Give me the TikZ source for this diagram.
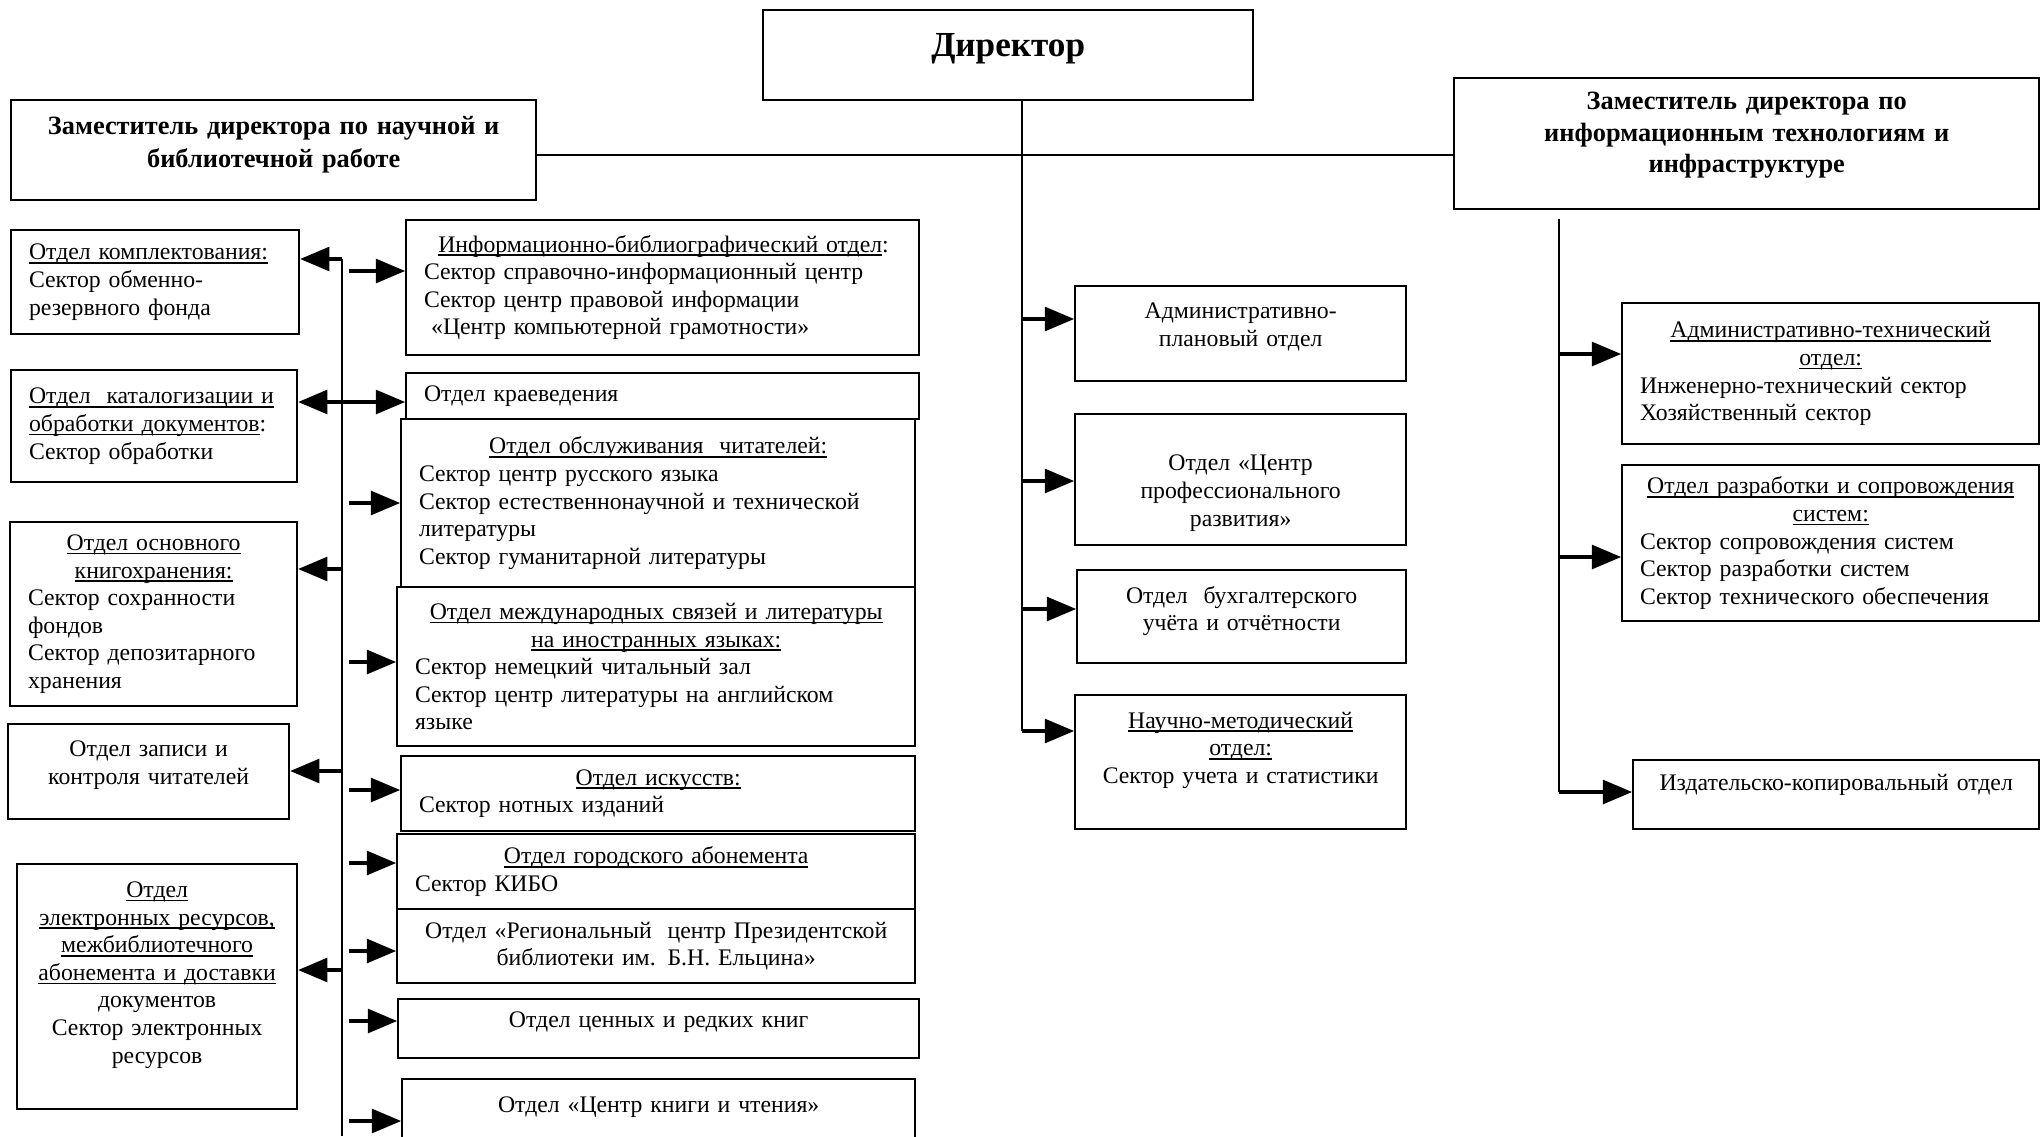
\documentclass[tikz,border=0pt]{standalone}
\usepackage{fontspec}
\setmainfont{Liberation Serif}
\usetikzlibrary{arrows}

\newsavebox\undlbox
\newcommand\undl[1]{\leavevmode\sbox\undlbox{#1}\rlap{\rule[-1.1pt]{\wd\undlbox}{0.45pt}}\usebox\undlbox}
\newcommand\boxfont{\fontsize{6.75pt}{7.85pt}\selectfont}
\newcommand\headfont{\fontsize{7.5pt}{9.3pt}\selectfont\bfseries}
\newcommand\dirfont{\fontsize{10pt}{12pt}\selectfont\bfseries}

\begin{document}
\begin{tikzpicture}[
    x=0.01cm, y=-0.01cm,
    box/.style={rectangle, draw, line width=0.6pt, inner xsep=0.18cm, inner ysep=2pt, anchor=north west, font=\boxfont},
    cbox/.style={box, align=center},
    lbox/.style={box, align=left},
    headbox/.style={box, align=center, font=\headfont},
    arrow/.style={line width=0.9pt,->,>=triangle 45},
    line/.style={line width=0.6pt,-}
]

\path[use as bounding box, fill=white] (0,0) rectangle (2042,1136);
\clip (0,0) rectangle (2042,1136);

% Top level

\node[headbox, font=\dirfont, text width=4.54cm, minimum height=0.90cm, text depth=0.2cm] (dir) at (762,9) {Директор};

\node[headbox, text width=4.89cm, minimum height=1.00cm, text depth=0.49cm] (zamL) at (10,99) {Заместитель директора по научной и\\ библиотечной работе};

\node[headbox, font=\headfont\fontsize{7.5pt}{8.9pt}\selectfont, text width=5.49cm, minimum height=1.31cm, text depth=0.85cm] (zamR) at (1453,77) {Заместитель директора по\\ информационным технологиям и\\ инфраструктуре};

\draw[line] (zamL.east |- 0,155) -- (zamR.west |- 0,155);

% Left column

\node[lbox, text width=2.52cm, minimum height=1.04cm] (kompl) at (10,229) {\undl{Отдел комплектования:}\\ Сектор обменно-\\ резервного фонда};

\node[lbox, text width=2.50cm, minimum height=1.12cm] (katal) at (10,369) {\undl{Отдел\ \ каталогизации и}\\ \undl{обработки документов}:\\ Сектор обработки};

\node[lbox, text width=2.51cm, minimum height=1.84cm] (khran) at (9,521) {{\centering\undl{Отдел основного}\\ \undl{книгохранения:}\par}Сектор сохранности\\ фондов\\ Сектор депозитарного\\ хранения};

\node[cbox, text width=2.45cm, minimum height=0.95cm, text depth=0.46cm] (zapis) at (7,723) {Отдел записи и\\ контроля читателей};

\node[cbox, text width=2.44cm, minimum height=2.45cm, text depth=1.94cm] (elres) at (16,863) {\undl{Отдел}\\ \undl{электронных ресурсов,}\\ \undl{межбиблиотечного}\\ \undl{абонемента и доставки}\\ документов\\ Сектор электронных\\ ресурсов};

% Second column

\node[lbox, text width=4.77cm, minimum height=1.35cm] (infobib) at (405,219) {\hspace*{0.6em}\undl{Информационно-библиографический отдел}:\\ Сектор справочно-информационный центр\\ Сектор центр правовой информации\\ \hspace*{0.3em}«Центр компьютерной грамотности»};

\node[lbox, text width=4.77cm, minimum height=0.46cm] (kraev) at (405,372) {Отдел краеведения};

\node[lbox, text width=4.78cm, minimum height=1.68cm] (obsl) at (400,418) {{\centering\undl{Отдел обслуживания\ \ читателей:}\par}Сектор центр русского языка\\ Сектор естественнонаучной и технической\\ литературы\\ Сектор гуманитарной литературы};

\node[lbox, text width=4.82cm, minimum height=1.59cm] (mezhd) at (396,586) {{\centering\undl{Отдел международных связей и литературы}\\ \undl{на иностранных языках:}\par}Сектор немецкий читальный зал\\ Сектор центр литературы на английском\\ языке};

\node[lbox, text width=4.78cm, minimum height=0.75cm] (iskus) at (400,755) {{\centering\undl{Отдел искусств:}\par}Сектор нотных изданий};

\node[lbox, text width=4.82cm, minimum height=0.75cm] (gorab) at (396,833) {{\centering\undl{Отдел городского абонемента}\par}Сектор КИБО};

\node[cbox, text width=4.82cm, minimum height=0.74cm] (region) at (396,908) {Отдел «Региональный\ \ центр Президентской\\ библиотеки им. Б.Н. Ельцина»};

\node[cbox, text width=4.85cm, minimum height=0.59cm, text depth=0.17cm] (tsenn) at (397,998) {Отдел ценных и редких книг};

\node[cbox, text width=4.77cm, minimum height=0.90cm, text depth=0.39cm] (tskn) at (401,1078) {Отдел «Центр книги и чтения»};

% Left spine

\coordinate (ltop) at (342,259);
\coordinate (lbot) at (342,1136);
\draw[line] (ltop) -- (lbot);

\foreach \n/\y in {kompl/259, katal/402, khran/569, zapis/771, elres/970}{
  \coordinate (s-\n) at (342,\y);
  \draw[arrow] (s-\n) -- (\n.east |- s-\n);
}

\foreach \n/\y in {infobib/271, obsl/503, mezhd/662, iskus/790, gorab/863, region/951, tsenn/1021, tskn/1121}{
  \coordinate (s-\n) at (349,\y);
  \draw[arrow] (s-\n) -- (\n.west |- s-\n);
}
\draw[arrow] (s-katal) -- (kraev.west |- s-katal);

% Centre column

\node[cbox, text width=2.95cm, minimum height=0.95cm, text depth=0.46cm] (adm) at (1074,285) {Административно-\\ плановый отдел};

\node[cbox, text width=2.95cm, minimum height=1.31cm, text height=0.43cm] (cpr) at (1074,413) {Отдел «Центр\\ профессионального\\ развития»};

\node[cbox, text width=2.93cm, minimum height=0.93cm, text depth=0.44cm] (buh) at (1076,569) {Отдел\ \ бухгалтерского\\ учёта и отчётности};

\node[cbox, text width=2.95cm, minimum height=1.34cm, text depth=0.84cm] (nmo) at (1074,694) {\undl{Научно-методический}\\ \undl{отдел:}\\ Сектор учета и статистики};

\coordinate (cbot) at (1022,731);
\draw[line] (dir.south -| cbot) -- (cbot);
\foreach \n/\y in {adm/319, cpr/481, buh/609, nmo/731}{
  \coordinate (c-\n) at (1022,\y);
  \draw[arrow] (c-\n) -- (\n.west |- c-\n);
}

% Right column

\node[lbox, text width=3.81cm, minimum height=1.41cm] (ato) at (1621,302) {{\centering\undl{Административно-технический}\\ \undl{отдел:}\par}Инженерно-технический сектор\\ Хозяйственный сектор};

\node[lbox, text width=3.81cm, minimum height=1.56cm] (orss) at (1621,464) {{\centering\undl{Отдел разработки и сопровождения}\\ \undl{систем:}\par}Сектор сопровождения систем\\ Сектор разработки систем\\ Сектор технического обеспечения};

\node[cbox, text width=3.70cm, minimum height=0.69cm, text depth=0.25cm] (iko) at (1632,759) {Издательско-копировальный отдел};

\coordinate (rtop) at (1559,219);
\coordinate (rbot) at (1559,792);
\draw[line] (rtop) -- (rbot);
\foreach \n/\y in {ato/354, orss/557, iko/792}{
  \coordinate (r-\n) at (1559,\y);
  \draw[arrow] (r-\n) -- (\n.west |- r-\n);
}

\end{tikzpicture}
\end{document}
